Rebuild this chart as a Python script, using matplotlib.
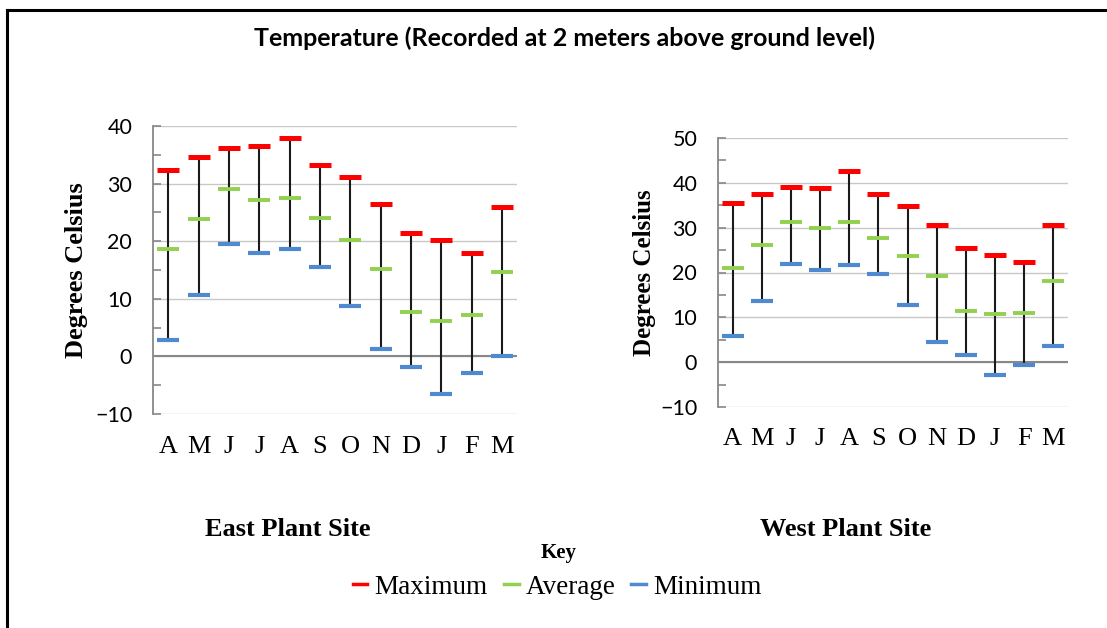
import matplotlib
matplotlib.use("Agg")
import matplotlib.pyplot as plt
from matplotlib.lines import Line2D
import numpy as np

months = ["A", "M", "J", "J", "A", "S", "O", "N", "D", "J", "F", "M"]

east_max = [32.3, 34.6, 36.1, 36.5, 38.0, 33.3, 31.2, 26.5, 21.4, 20.2, 18.0, 26.0]
east_avg = [18.6, 23.8, 29.0, 27.2, 27.5, 24.1, 20.2, 15.1, 7.7, 6.2, 7.2, 14.7]
east_min = [2.8, 10.7, 19.5, 17.9, 18.7, 15.6, 8.8, 1.2, -1.9, -6.6, -2.9, 0.1]

west_max = [35.4, 37.6, 39.0, 38.8, 42.7, 37.6, 34.9, 30.6, 25.4, 23.9, 22.3, 30.5]
west_avg = [21.1, 26.2, 31.3, 30.0, 31.2, 27.7, 23.7, 19.2, 11.5, 10.7, 10.9, 18.1]
west_min = [5.9, 13.6, 21.9, 20.5, 21.7, 19.6, 12.8, 4.4, 1.6, -2.8, -0.6, 3.6]

RED = "#FF0000"
GREEN = "#92D050"
BLUE = "#4F8AD0"
GRID = "#C8C8C8"
AXIS = "#888888"

W, H = 1107, 628
fig = plt.figure(figsize=(W / 100, H / 100), dpi=100)
fig.patch.set_facecolor("white")


def fx(px):
    return px / W


def fy(py):
    return 1 - py / H


def draw_panel(ax, vmax, vavg, vmin, ymin, ymax, xlab_pad):
    x = np.arange(len(months))
    ax.set_xlim(-0.5, len(months) - 0.5)
    ax.set_ylim(ymin, ymax)
    for s in ["top", "right", "bottom"]:
        ax.spines[s].set_visible(False)
    ax.spines["left"].set_color(AXIS)
    ax.spines["left"].set_linewidth(1.3)
    ax.set_yticks(np.arange(ymin, ymax + 1, 10))
    ax.set_yticks(np.arange(ymin, ymax + 1, 5), minor=True)
    ax.yaxis.grid(True, which="major", color=GRID, linewidth=1.0, zorder=0)
    ax.set_axisbelow(True)
    ax.axhline(0, color=AXIS, linewidth=1.5, zorder=1)
    ax.tick_params(axis="y", which="both", direction="in", length=6,
                   width=1.2, color=AXIS, pad=15, labelsize=15.5)
    ax.tick_params(axis="x", length=0, pad=xlab_pad)
    ax.set_xticks(x)
    ax.set_xticklabels(months, fontfamily="Liberation Serif", fontsize=19)
    for lab in ax.get_yticklabels():
        lab.set_fontfamily("Lato")
    ax.vlines(x, vmin, vmax, color="#1A1A1A", linewidth=1.5, zorder=2)
    ax.plot(x, vmax, linestyle="none", marker="_", markersize=15.5,
            markeredgewidth=3.6, color=RED, zorder=3)
    ax.plot(x, vavg, linestyle="none", marker="_", markersize=15.5,
            markeredgewidth=2.8, color=GREEN, zorder=3)
    ax.plot(x, vmin, linestyle="none", marker="_", markersize=15.5,
            markeredgewidth=3.0, color=BLUE, zorder=3)


axE = fig.add_axes([fx(153), fy(414), fx(517) - fx(153), fy(126) - fy(414)])
draw_panel(axE, east_max, east_avg, east_min, -10, 40, 16)

axW = fig.add_axes([fx(718), fy(407), fx(1068) - fx(718), fy(138) - fy(407)])
draw_panel(axW, west_max, west_avg, west_min, -10, 50, 15)

# y labels
fig.text(fx(77), fy(270), "Degrees Celsius", rotation=90, ha="center",
         va="center", fontfamily="Liberation Serif", fontweight="bold",
         fontsize=19)
fig.text(fx(644), fy(273), "Degrees Celsius", rotation=90, ha="center",
         va="center", fontfamily="Liberation Serif", fontweight="bold",
         fontsize=18)

# title
fig.text(fx(564), fy(38), "Temperature (Recorded at 2 meters above ground level)",
         ha="center", va="center", fontfamily="Lato", fontweight="bold",
         fontsize=18)

# panel captions
fig.text(fx(288), fy(530), "East Plant Site", ha="center", va="center",
         fontfamily="Liberation Serif", fontweight="bold", fontsize=19)
fig.text(fx(846), fy(530), "West Plant Site", ha="center", va="center",
         fontfamily="Liberation Serif", fontweight="bold", fontsize=19)

fig.text(fx(559), fy(553), "Key", ha="center", va="center",
         fontfamily="Liberation Serif", fontweight="bold", fontsize=15)

handles = [Line2D([], [], color=RED, linewidth=2.5),
           Line2D([], [], color=GREEN, linewidth=2.5),
           Line2D([], [], color=BLUE, linewidth=2.5)]
fig.legend(handles, ["Maximum", "Average", "Minimum"], loc="center",
           bbox_to_anchor=(fx(557), fy(587)), ncol=3, frameon=False,
           handlelength=0.55, handletextpad=0.25, columnspacing=0.6,
           prop={"family": "Liberation Serif", "size": 19.5})

# outer border (top and left)
fig.add_artist(Line2D([fx(7), 1.0], [fy(10), fy(10)], color="black",
                      linewidth=2.2, transform=fig.transFigure))
fig.add_artist(Line2D([fx(7), fx(7)], [fy(10), 0.0], color="black",
                      linewidth=2.2, transform=fig.transFigure))

fig.savefig("out.png", dpi=100, facecolor="white")
